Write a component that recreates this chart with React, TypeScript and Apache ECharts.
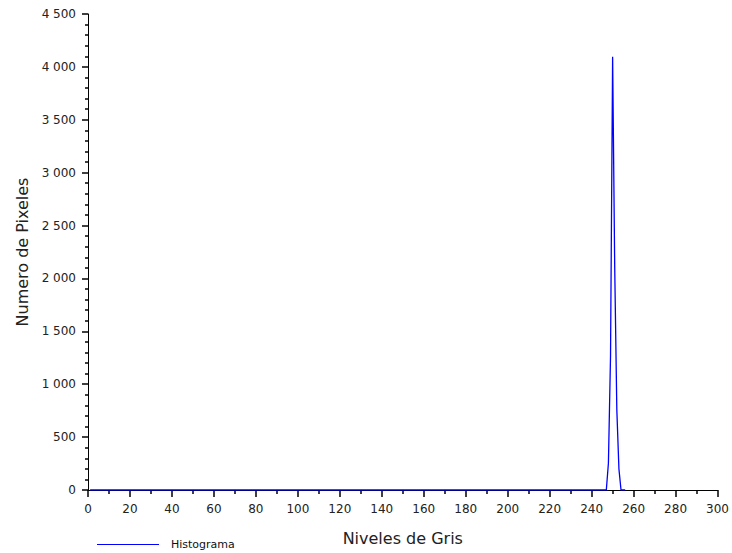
import React, { useEffect, useRef } from "react";
import * as echarts from "echarts";

// Grey level (x) and pixel count (y) of the histogram line
const grayLevels = [1, 247, 248, 249, 250, 251, 252, 253, 254, 256];
const pixelCounts = [0, 0, 255, 1267, 4095, 2100, 760, 200, 0, 0];

const seriesName = "Histograma";
const xAxisName = "Niveles de Gris";
const yAxisName = "Numero de Pixeles";

const FONT = "DejaVu Sans";

function fmtThousands(v: number): string {
  const s = String(Math.round(v));
  return s.replace(/\B(?=(\d{3})+(?!\d))/g, " ");
}

export default function App() {
  const ref = useRef<HTMLDivElement>(null);

  useEffect(() => {
    if (!ref.current) return;
    const chart = echarts.init(ref.current, undefined, { renderer: "svg" });
    const data = grayLevels.map((x, i) => [x, pixelCounts[i]]);
    chart.setOption({
      animation: false,
      backgroundColor: "#ffffff",
      grid: { left: 88, right: 13, top: 14, bottom: 63, containLabel: false },
      legend: {
        show: true,
        left: 92,
        top: 534,
        itemWidth: 62,
        itemHeight: 14,
        icon: "path://M0,7 L62,7 L62,8 L0,8 Z",
        textStyle: {
          fontFamily: FONT,
          fontSize: 11,
          color: "#111",
          padding: [0, 0, 0, 7],
        },
        data: [{ name: seriesName, itemStyle: { color: "#0000ff" } }],
      },
      xAxis: {
        type: "value",
        min: 0,
        max: 300,
        interval: 20,
        name: xAxisName,
        nameLocation: "middle",
        nameGap: 40,
        nameTextStyle: { fontFamily: FONT, fontSize: 16, color: "#222" },
        axisLine: { show: true, onZero: false, lineStyle: { color: "#000", width: 1 } },
        axisTick: { show: true, inside: false, length: 7, lineStyle: { color: "#000", width: 1.5 } },
        minorTick: { show: true, splitNumber: 2, length: 4, lineStyle: { color: "#000", width: 1.5 } },
        axisLabel: { fontFamily: FONT, fontSize: 12, color: "#222", margin: 13 },
        splitLine: { show: false },
      },
      yAxis: {
        type: "value",
        min: 0,
        max: 4500,
        interval: 500,
        name: yAxisName,
        nameLocation: "middle",
        nameGap: 57,
        nameTextStyle: { fontFamily: FONT, fontSize: 16, color: "#222" },
        axisLine: { show: true, onZero: false, lineStyle: { color: "#000", width: 1 } },
        axisTick: { show: true, inside: false, length: 6, lineStyle: { color: "#000", width: 1.5 } },
        minorTick: { show: true, splitNumber: 5, length: 3, lineStyle: { color: "#000", width: 1.5 } },
        axisLabel: {
          fontFamily: FONT,
          fontSize: 12,
          color: "#222",
          margin: 12,
          formatter: (v: number) => fmtThousands(v),
        },
        splitLine: { show: false },
      },
      series: [
        {
          name: seriesName,
          type: "line",
          data,
          symbol: "none",
          showSymbol: false,
          lineStyle: { color: "#0000ff", width: 1.3 },
          itemStyle: { color: "#0000ff" },
          z: 3,
        },
      ],
    });
    return () => chart.dispose();
  }, []);

  return (
    <div
      ref={ref}
      style={{ position: "fixed", left: 0, top: 0, width: 732, height: 553, background: "#fff" }}
    />
  );
}
